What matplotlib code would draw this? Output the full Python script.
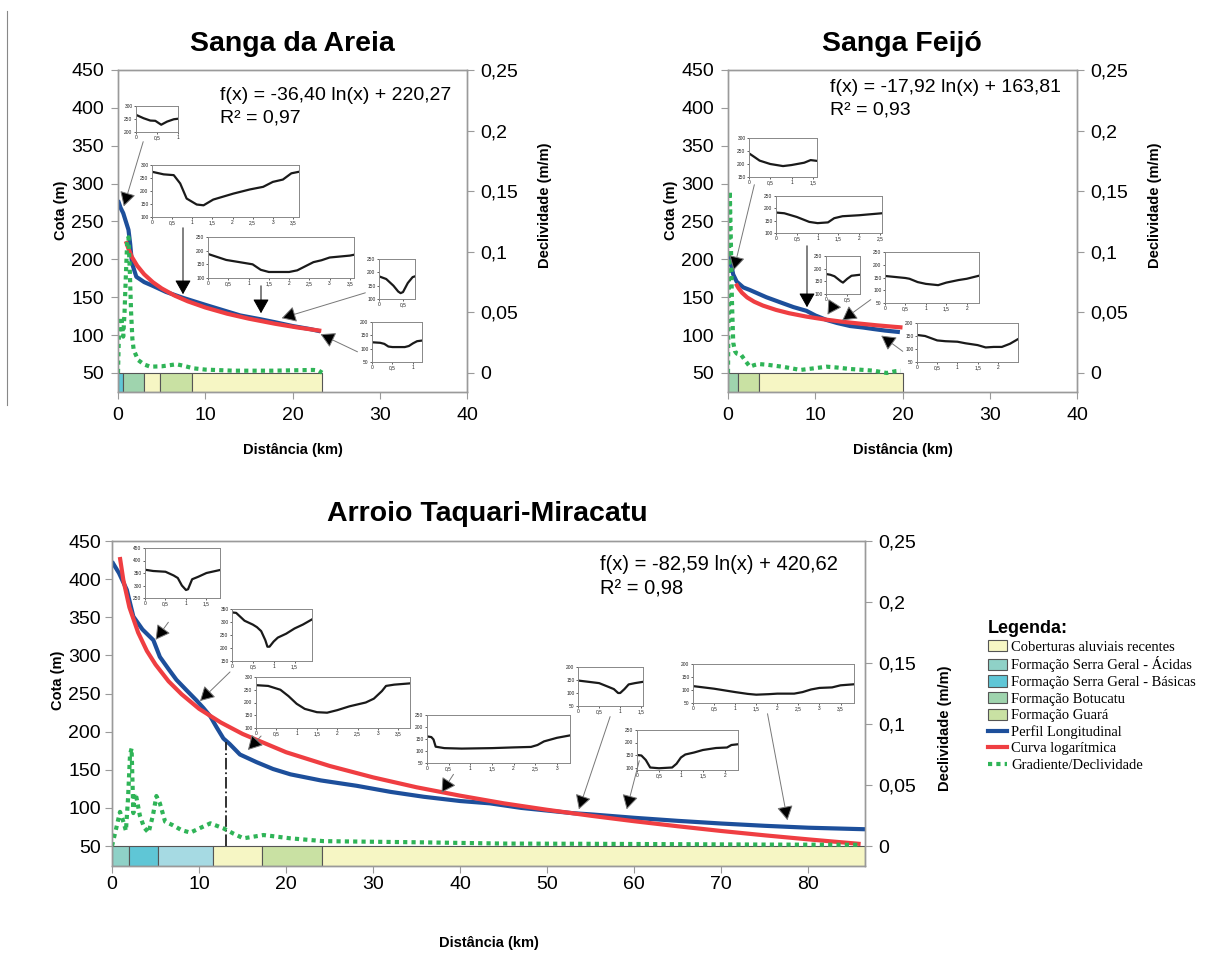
import matplotlib
matplotlib.use('Agg')
import matplotlib.pyplot as plt
from matplotlib.patches import Patch, FancyArrowPatch
from matplotlib.lines import Line2D

# ---------------- DATA ----------------
cota_ticks = [50, 100, 150, 200, 250, 300, 350, 400, 450]
decl_ticks = [0, 0.05, 0.1, 0.15, 0.2, 0.25]
decl_labels = ['0', '0,05', '0,1', '0,15', '0,2', '0,25']

geo_names = ['Coberturas aluviais recentes', 'Formação Serra Geral - Ácidas',
             'Formação Serra Geral - Básicas', 'Formação Botucatu', 'Formação Guará']
geo_colors = ['#f6f6c4', '#8fd1c7', '#5fc6d6', '#9fd4ae', '#c9e1a3']
extra_color = '#a6dae3'

# Sanga da Areia
areia_x = [0, 0.3, 0.6, 0.9, 1.2, 1.4, 1.6, 2.1, 3.0, 4.0, 5.5, 7.5, 10, 12, 14, 16.3, 18, 20, 22, 23.2]
areia_y = [278, 268, 261, 250, 239, 220, 195, 177, 170, 165, 157, 149, 140, 133, 126, 121, 117, 112, 108, 105]
areia_log_x = [0.9, 1.2, 1.6, 2.2, 3, 4, 5, 6.5, 8, 10, 12.5, 15, 18, 20.5, 23.3]
areia_log_y = [224, 214, 203, 191.6, 180.3, 169.8, 161.7, 152.1, 144.6, 136.5, 128.3, 121.7, 115.0, 110.2, 105.6]
areia_g_x = [0, 0.1, 0.2, 0.4, 0.6, 0.75, 0.9, 1.05, 1.2, 1.35, 1.5, 1.65, 1.8, 2.3, 3.0, 3.7, 5, 6.0,
             6.7, 7.5, 8.6, 10, 13.2, 17.8, 20, 22.4, 23.0, 23.4]
areia_g_y = [0, 0.03, 0.046, 0.045, 0.03, 0.05, 0.08, 0.108, 0.112, 0.085, 0.05, 0.028, 0.019, 0.0107,
             0.007, 0.0052, 0.0055, 0.0065, 0.0072, 0.006, 0.0039, 0.0028, 0.0019, 0.0019, 0.0022,
             0.0025, 0.002, 0.0002]
areia_geo = [(0, 0.6, 2), (0.6, 3.0, 3), (3.0, 4.85, 0), (4.85, 8.5, 4), (8.5, 23.4, 0)]

# Sanga Feijó
feijo_x = [0, 0.2, 0.42, 0.6, 1.0, 1.75, 2.5, 4.4, 6.3, 7.5, 9.0, 10.0, 11.3, 12.5, 14.0, 15.5, 16.7, 18, 19.7]
feijo_y = [208, 197, 190, 180, 170.5, 163, 159.6, 150, 142, 137, 132, 126, 120, 116, 112, 110, 108, 106, 104]
feijo_log_x = [0.9, 1.2, 1.6, 2.2, 3, 4, 5.5, 7, 9, 11, 13, 15, 17, 19, 20]
feijo_log_y = [168, 162, 156, 149.7, 144.1, 139.0, 133.3, 128.9, 124.4, 120.8, 117.8, 115.3, 113.0, 111.0, 110.1]
feijo_g_x = [0, 0.1, 0.2, 0.3, 0.45, 0.6, 0.8, 1.0, 1.5, 2.0, 2.5, 3.0, 3.5, 4.5, 6.4, 8.3, 10, 11.3,
             12.5, 14, 16.7, 18.2, 19.2, 19.8]
feijo_g_y = [0, 0.08, 0.15, 0.12, 0.06, 0.025, 0.018, 0.016, 0.015, 0.01, 0.0052, 0.0065, 0.0074,
             0.0068, 0.005, 0.0025, 0.004, 0.0052, 0.0045, 0.0033, 0.0019, 0.0, 0.0015, 0.0019]
feijo_geo = [(0, 1.1, 3), (1.1, 3.6, 4), (3.6, 20.0, 0)]

# Arroio Taquari-Miracatu
taq_x = [0, 0.8, 1.7, 2.45, 3.5, 4.75, 5.5, 6.5, 7.4, 8.5, 9.7, 10.5, 11.3, 12.0, 12.8, 13.5, 14.7,
         16.6, 18.5, 20.5, 24, 28.1, 32, 35.8, 40, 43.4, 47, 50, 53, 55, 60, 65, 70, 75, 80, 86.5]
taq_y = [423, 408, 386, 351, 334, 320, 298, 282, 268, 255, 241, 231, 220, 206, 191, 184, 170, 160,
         151, 144, 136, 129, 121, 114.6, 109, 106, 100, 96.5, 93, 91.5, 87, 83, 79.5, 76.5, 74, 72]
taq_log_x = [0.9, 1.3, 2, 3, 4, 5, 6.5, 8, 10, 12.5, 15, 20, 25, 30, 35, 40, 45, 50, 55, 60, 65, 70, 75, 80, 86]
taq_log_y = [429, 399, 363, 330, 306, 288, 266, 249, 230, 212, 197, 173, 155, 140, 127, 116, 106, 97.5,
             89.7, 82.5, 75.9, 69.7, 64.0, 58.7, 52.7]
taq_g_x = [0, 0.5, 0.92, 1.3, 1.6, 1.85, 2.07, 2.25, 2.45, 2.6, 2.8, 3.2, 3.7, 4.2, 4.7, 5.1, 5.5, 6.1,
           7, 8, 9.0, 10.2, 11.3, 12.8, 14, 15.1, 17.4, 20.5, 24.3, 30, 35.8, 45, 55, 65, 75, 86]
taq_g_y = [0, 0.015, 0.028, 0.02, 0.0125, 0.04, 0.075, 0.08, 0.027, 0.043, 0.04, 0.025, 0.015, 0.011,
           0.025, 0.041, 0.035, 0.02, 0.017, 0.013, 0.011, 0.015, 0.0186, 0.0145, 0.01, 0.0063, 0.009,
           0.0063, 0.004, 0.0035, 0.003, 0.002, 0.0018, 0.0015, 0.0012, 0.001]
taq_geo = [(0, 2.0, 1), (2.0, 5.3, 2), (5.3, 11.55, -1), (11.55, 17.2, 0), (17.2, 24.1, 4), (24.1, 86.5, 0)]
taq_mark_x = 13.1
taq_mark_y = [50, 187]

# cross sections (insets)
i1_x = [0, 0.18, 0.34, 0.46, 0.6, 0.74, 0.9, 1.0]
i1_y = [266, 253, 244, 243, 228, 240, 249, 251]
i2_x = [0, 0.29, 0.54, 0.7, 0.86, 1.11, 1.28, 1.52, 2.02, 2.43, 2.76, 3.0, 3.25, 3.46, 3.65]
i2_y = [274, 264, 261, 229, 171, 148, 145, 167, 190, 206, 216, 235, 244, 268, 274]
i3_x = [0, 0.45, 0.9, 1.1, 1.3, 1.5, 2.0, 2.2, 2.6, 2.8, 3.0, 3.5, 3.6]
i3_y = [188, 166, 155, 150, 130, 122, 122, 128, 158, 165, 175, 182, 185]
i4_x = [0, 0.15, 0.3, 0.4, 0.45, 0.5, 0.6, 0.7, 0.75]
i4_y = [185, 175, 150, 128, 122, 126, 160, 182, 185]
i5_x = [0, 0.2, 0.3, 0.4, 0.5, 0.8, 0.9, 1.0, 1.1, 1.2]
i5_y = [124, 122, 118, 108, 106, 106, 110, 120, 128, 130]
j1_x = [0, 0.1, 0.25, 0.5, 0.8, 1.0, 1.3, 1.45, 1.6]
j1_y = [241, 230, 213, 200, 192, 196, 205, 215, 212]
j2_x = [0, 0.2, 0.5, 0.8, 1.0, 1.25, 1.4, 1.6, 2.0, 2.2, 2.55]
j2_y = [183, 180, 165, 145, 140, 143, 160, 168, 172, 175, 180]
j3_x = [0, 0.1, 0.2, 0.35, 0.4, 0.5, 0.6, 0.8]
j3_y = [179, 176, 170, 150, 145, 160, 172, 176]
j4_x = [0, 0.5, 0.6, 0.8, 1.0, 1.3, 1.5, 1.8, 2.0, 2.3]
j4_y = [156, 148, 145, 132, 125, 120, 130, 140, 145, 157]
j5_x = [0, 0.2, 0.5, 0.7, 1.0, 1.2, 1.5, 1.7, 1.9, 2.1, 2.3, 2.5]
j5_y = [154, 150, 133, 130, 128, 122, 115, 106, 108, 108, 120, 138]
k1_x = [0, 0.2, 0.5, 0.7, 0.8, 0.9, 1.0, 1.05, 1.15, 1.3, 1.5, 1.83]
k1_y = [363, 358, 355, 340, 330, 300, 282, 285, 325, 335, 350, 362]
k2_x = [0, 0.1, 0.3, 0.5, 0.6, 0.7, 0.8, 0.85, 0.9, 1.0, 1.1, 1.3, 1.5, 1.7, 1.92]
k2_y = [337, 335, 305, 290, 280, 265, 230, 205, 205, 225, 240, 255, 275, 290, 310]
k3_x = [0, 0.3, 0.6, 0.8, 1.0, 1.2, 1.5, 1.75, 2.0, 2.3, 2.7, 2.9, 3.1, 3.2, 3.4, 3.79]
k3_y = [268, 265, 250, 225, 195, 175, 162, 160, 170, 185, 200, 215, 245, 265, 270, 275]
k4_x = [0, 0.1, 0.15, 0.2, 0.4, 0.8, 1.5, 2.0, 2.4, 2.55, 2.7, 3.0, 3.3]
k4_y = [161, 158, 148, 118, 112, 110, 112, 115, 117, 125, 140, 155, 165]
k5_x = [0, 0.3, 0.5, 0.7, 0.85, 0.95, 1.0, 1.1, 1.2, 1.35, 1.54]
k5_y = [148, 142, 138, 125, 115, 100, 100, 115, 133, 138, 143]
k6_x = [0, 0.1, 0.2, 0.3, 0.5, 0.8, 0.9, 1.0, 1.1, 1.3, 1.5, 1.8, 2.05, 2.15, 2.3]
k6_y = [150, 148, 130, 100, 97, 100, 115, 140, 152, 160, 170, 178, 180, 190, 193]
k7_x = [0, 0.5, 1.0, 1.3, 1.5, 1.8, 2.0, 2.4, 2.6, 2.8, 3.0, 3.3, 3.5, 3.82]
k7_y = [115, 105, 92, 85, 82, 84, 86, 86, 92, 102, 108, 110, 118, 122]

# ---------------- FIGURE ----------------
W, H = 1217, 960
fig = plt.figure(figsize=(W / 100, H / 100), dpi=100)
plt.rcParams['font.family'] = ['Liberation Sans', 'DejaVu Sans']

BLUE = '#1d4f9b'
RED = '#ef3e42'
GREEN = '#2fb457'
GRAY = '#9a9a9a'


def px_axes(l, t, r, b):
    return fig.add_axes([l / W, 1 - b / H, (r - l) / W, (b - t) / H])


def fmt(v):
    return ('%g' % v).replace('.', ',')


def panel(box, xmax, xticks, ymin, px, py, lx, ly, gx, gy, geo, xpad, ypad, ylab_x, ylab_y,
          rlab_x, rlab_y, xlab_y):
    ax = px_axes(*box)
    ax.set_xlim(0, xmax)
    ax.set_ylim(ymin, 450)
    ax2 = ax.twinx()
    ax2.set_ylim((ymin - 50) * 0.25 / 400, 0.25)

    # geology bar
    segs, cols = [], []
    for s, e, k in geo:
        segs.append((s, e - s))
        cols.append(extra_color if k < 0 else geo_colors[k])
    ax.broken_barh(segs, (ymin, 50 - ymin), facecolors=cols, edgecolor='#555555', lw=0.8, zorder=2)

    ax.plot(px, py, color=BLUE, lw=3, zorder=3, solid_capstyle='butt')
    ax.plot(lx, ly, color=RED, lw=3, zorder=4, solid_capstyle='butt')
    ax2.plot(gx, gy, color=GREEN, lw=3, ls=(0, (1, 1)), dash_capstyle='butt')

    ax.set_xticks(xticks)
    ax.set_yticks(cota_ticks)
    ax2.set_yticks(decl_ticks)
    ax2.set_yticklabels(decl_labels)
    ax.tick_params(axis='x', direction='out', length=5, color=GRAY, labelsize=14, pad=xpad)
    ax.tick_params(axis='y', direction='out', length=5, color=GRAY, labelsize=14, pad=ypad)
    ax2.tick_params(axis='y', direction='out', length=5, color=GRAY, labelsize=14, pad=4.5)
    for a in (ax, ax2):
        for s in a.spines.values():
            s.set_color(GRAY)
            s.set_linewidth(1)

    ax.set_xlabel('Distância (km)', fontsize=10.5, fontweight='bold')
    ax.xaxis.set_label_coords(0.5, xlab_y)
    ax.set_ylabel('Cota (m)', fontsize=10.5, fontweight='bold')
    ax.yaxis.set_label_coords(ylab_x, ylab_y)
    ax2.set_ylabel('Declividade (m/m)', fontsize=10.5, fontweight='bold')
    ax2.yaxis.set_label_coords(rlab_x, rlab_y)
    return ax, ax2


ax_a, ax_a2 = panel((118, 70, 467, 392), 40, [0, 10, 20, 30, 40], 24.9,
                    areia_x, areia_y, areia_log_x, areia_log_y, areia_g_x, areia_g_y, areia_geo,
                    6, 5, -0.143, 0.565, 1.203, 0.58, -0.158)
ax_f, ax_f2 = panel((728, 70, 1077, 392), 40, [0, 10, 20, 30, 40], 24.9,
                    feijo_x, feijo_y, feijo_log_x, feijo_log_y, feijo_g_x, feijo_g_y, feijo_geo,
                    6, 5, -0.143, 0.565, 1.203, 0.58, -0.158)
ax_t, ax_t2 = panel((112, 541, 865, 866), 86.5, [0, 10, 20, 30, 40, 50, 60, 70, 80], 23.8,
                    taq_x, taq_y, taq_log_x, taq_log_y, taq_g_x, taq_g_y, taq_geo,
                    2, 3, -0.062, 0.572, 1.097, 0.425, -0.215)
ax_t.plot([taq_mark_x, taq_mark_x], taq_mark_y, color='#222222', lw=1.3, ls='-.', zorder=5)

# titles and equations
fig.text(292 / W, 1 - 44 / H, 'Sanga da Areia', ha='center', va='center', fontsize=20.5, fontweight='bold')
fig.text(902 / W, 1 - 44 / H, 'Sanga Feijó', ha='center', va='center', fontsize=20.5, fontweight='bold')
fig.text(487 / W, 1 - 514 / H, 'Arroio Taquari-Miracatu', ha='center', va='center', fontsize=20.5,
         fontweight='bold')

fig.text(220 / W, 1 - 95 / H, 'f(x) = -36,40 ln(x) + 220,27', va='center', fontsize=14)
fig.text(220 / W, 1 - 118 / H, 'R² = 0,97', va='center', fontsize=14)
fig.text(830 / W, 1 - 88 / H, 'f(x) = -17,92 ln(x) + 163,81', va='center', fontsize=14)
fig.text(830 / W, 1 - 110 / H, 'R² = 0,93', va='center', fontsize=14)
fig.text(600 / W, 1 - 565 / H, 'f(x) = -82,59 ln(x) + 420,62', va='center', fontsize=14.5)
fig.text(600 / W, 1 - 589 / H, 'R² = 0,98', va='center', fontsize=14.5)


# cross-section insets
def inset(box, xs, ys, xlim, ylim, xt, yt):
    a = px_axes(*box)
    a.plot(xs, ys, color='#1a1a1a', lw=1.6)
    a.set_xlim(xlim)
    a.set_ylim(ylim)
    a.set_xticks(xt)
    a.set_yticks(yt)
    a.set_xticklabels([fmt(v) for v in xt])
    a.set_yticklabels([fmt(v) for v in yt])
    a.tick_params(labelsize=3.5, length=1.5, width=0.5, pad=1, colors='#222222')
    for s in a.spines.values():
        s.set_color('#888888')
        s.set_linewidth(0.7)
    return a


inset((136, 106, 178, 132), i1_x, i1_y, (0, 1.0), (200, 300), [0, 0.5, 1], [200, 250, 300])
inset((152, 165, 299, 217), i2_x, i2_y, (0, 3.65), (100, 300), [0, 0.5, 1, 1.5, 2, 2.5, 3, 3.5], [100, 150, 200, 250, 300])
inset((208, 237, 354, 278), i3_x, i3_y, (0, 3.6), (100, 250), [0, 0.5, 1, 1.5, 2, 2.5, 3, 3.5], [100, 150, 200, 250])
inset((379, 259, 415, 299), i4_x, i4_y, (0, 0.75), (100, 250), [0, 0.5], [100, 150, 200, 250])
inset((372, 322, 422, 362), i5_x, i5_y, (0, 1.22), (50, 200), [0, 0.5, 1], [50, 100, 150, 200])
inset((749, 138, 817, 177), j1_x, j1_y, (0, 1.6), (150, 300), [0, 0.5, 1, 1.5], [150, 200, 250, 300])
inset((776, 196, 882, 233), j2_x, j2_y, (0, 2.55), (100, 250), [0, 0.5, 1, 1.5, 2, 2.5], [100, 150, 200, 250])
inset((826, 256, 860, 294), j3_x, j3_y, (0, 0.8), (100, 250), [0, 0.5], [100, 150, 200, 250])
inset((885, 252, 979, 303), j4_x, j4_y, (0, 2.3), (50, 250), [0, 0.5, 1, 1.5, 2], [50, 100, 150, 200, 250])
inset((917, 323, 1018, 362), j5_x, j5_y, (0, 2.5), (50, 200), [0, 0.5, 1, 1.5, 2], [50, 100, 150, 200])
inset((145, 548, 220, 598), k1_x, k1_y, (0, 1.83), (250, 450), [0, 0.5, 1, 1.5], [250, 300, 350, 400, 450])
inset((232, 609, 312, 661), k2_x, k2_y, (0, 1.92), (150, 350), [0, 0.5, 1, 1.5], [150, 200, 250, 300, 350])
inset((256, 677, 410, 728), k3_x, k3_y, (0, 3.79), (100, 300), [0, 0.5, 1, 1.5, 2, 2.5, 3, 3.5], [100, 150, 200, 250, 300])
inset((427, 715, 570, 763), k4_x, k4_y, (0, 3.3), (50, 250), [0, 0.5, 1, 1.5, 2, 2.5, 3], [50, 100, 150, 200, 250])
inset((578, 667, 643, 706), k5_x, k5_y, (0, 1.54), (50, 200), [0, 0.5, 1, 1.5], [50, 100, 150, 200])
inset((637, 730, 738, 770), k6_x, k6_y, (0, 2.3), (90, 250), [0, 0.5, 1, 1.5, 2], [100, 150, 200, 250])
inset((693, 664, 854, 703), k7_x, k7_y, (0, 3.82), (50, 200), [0, 0.5, 1, 1.5, 2, 2.5, 3, 3.5], [50, 100, 150, 200])


# pointer arrows (figure pixels, y from top)
def arrow(x0, y0, x1, y1, c='#777777'):
    fig.add_artist(FancyArrowPatch((x0 / W, 1 - y0 / H), (x1 / W, 1 - y1 / H), transform=fig.transFigure,
                                   arrowstyle='-|>,head_length=0.8,head_width=0.45', mutation_scale=11,
                                   lw=0.7, ec=c, fc='black', zorder=10))


arrow(144, 139, 123, 209)
arrow(183, 225, 183, 297, 'black')
arrow(261, 283, 261, 316, 'black')
arrow(368, 292, 279, 319)
arrow(360, 353, 318, 333)
arrow(755, 182, 733, 273)
arrow(807, 243, 807, 310, 'black')
arrow(835, 303, 826, 317)
arrow(873, 298, 840, 322)
arrow(905, 353, 879, 334)
arrow(170, 620, 154, 642)
arrow(232, 670, 198, 703)
arrow(263, 734, 246, 752)
arrow(455, 772, 440, 795)
arrow(611, 714, 578, 812)
arrow(640, 758, 626, 812)
arrow(767, 711, 788, 823)

# legend
handles = [Patch(facecolor=c, edgecolor='#555555', lw=0.8) for c in geo_colors]
handles += [Line2D([], [], color=BLUE, lw=3), Line2D([], [], color=RED, lw=3),
            Line2D([], [], color=GREEN, lw=3, ls=(0, (1, 1)))]
labels = geo_names + ['Perfil Longitudinal', 'Curva logarítmica', 'Gradiente/Declividade']
fig.legend(handles, labels, loc='upper left', bbox_to_anchor=(988 / W, 1 - 620 / H), frameon=False,
           title='Legenda:', alignment='left', prop={'family': 'Liberation Serif', 'size': 10.5},
           title_fontproperties={'family': 'Liberation Sans', 'weight': 'bold', 'size': 13},
           handlelength=1.3, handleheight=0.8, handletextpad=0.3, labelspacing=0.2,
           borderpad=0, borderaxespad=0)

# thin frame line on the left edge
fig.add_artist(Line2D([7 / W, 7 / W], [1 - 11 / H, 1 - 405 / H], color='#888888', lw=0.8))

fig.savefig('out.png', dpi=100)
